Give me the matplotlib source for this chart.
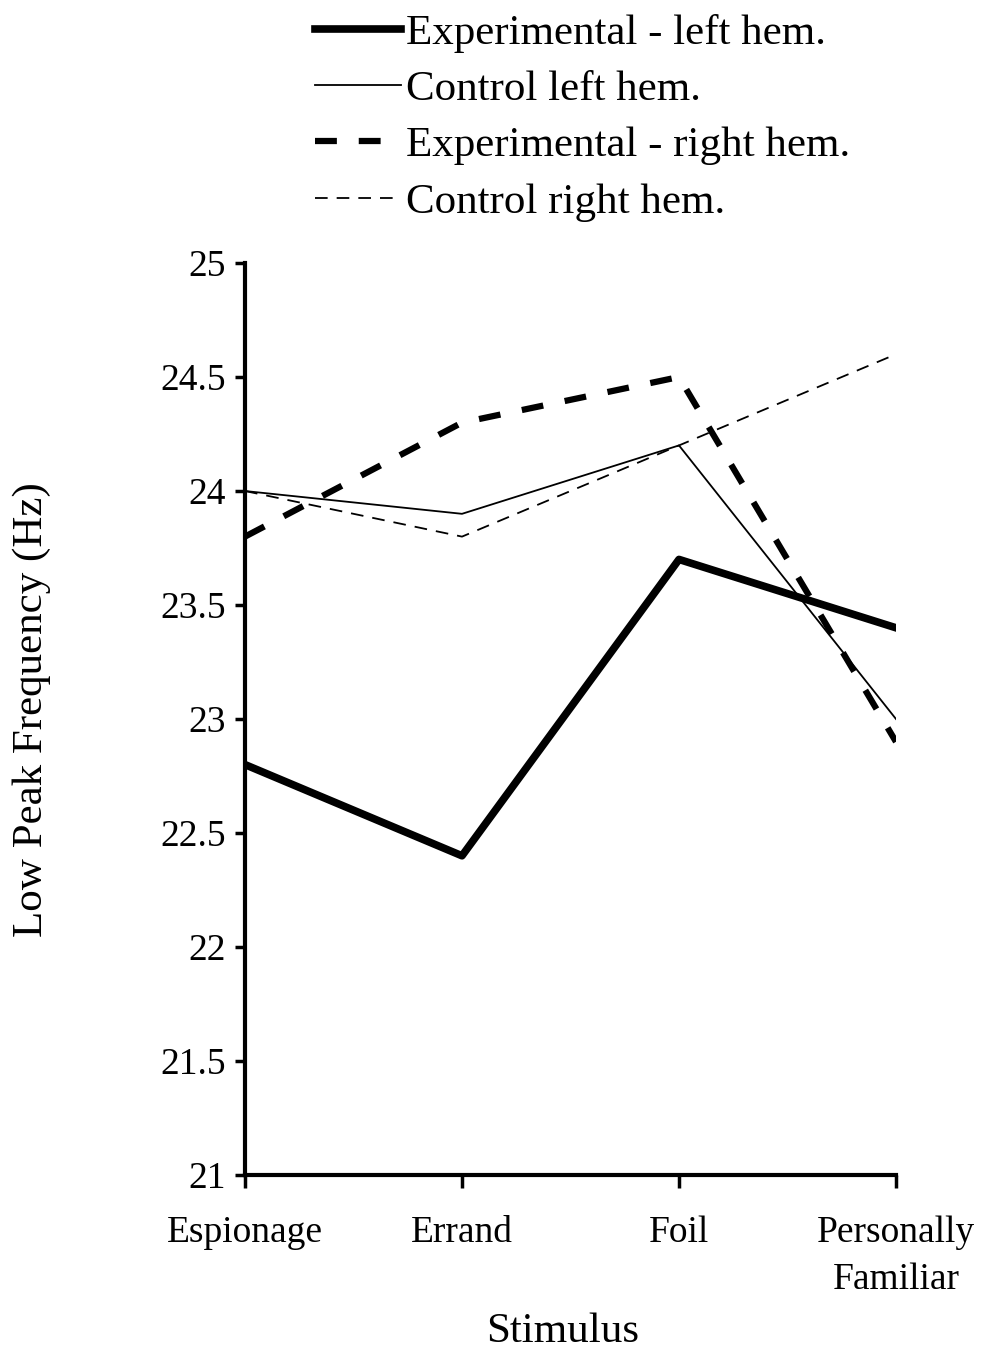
import matplotlib.pyplot as plt

plt.rcParams['font.family'] = ['Liberation Serif', 'DejaVu Serif']

stimuli = ['Espionage', 'Errand', 'Foil', 'Personally\nFamiliar']
exp_left = [22.8, 22.4, 23.7, 23.4]
ctrl_left = [24.0, 23.9, 24.2, 23.0]
exp_right = [23.8, 24.3, 24.5, 22.9]
ctrl_right = [24.0, 23.8, 24.2, 24.6]

fig = plt.figure(figsize=(9.82, 13.51), dpi=100)
ax = fig.add_axes([0.2495, 0.1303, 0.6629, 0.675])

x = range(len(stimuli))
ax.plot(x, exp_left, color='black', lw=5.5, label='Experimental - left hem.')
ax.plot(x, ctrl_left, color='black', lw=1.3, label='Control left hem.')
ax.plot(x, exp_right, color='black', lw=4.5, dashes=(3.5, 3.5), label='Experimental - right hem.')
ax.plot(x, ctrl_right, color='black', lw=1.3, dashes=(7, 5), label='Control right hem.')

ax.set_xlim(0, 3)
ax.set_ylim(21, 25)
ax.set_yticks([21, 21.5, 22, 22.5, 23, 23.5, 24, 24.5, 25])
ax.set_yticklabels(['21', '21.5', '22', '22.5', '23', '23.5', '24', '24.5', '25'])
ax.set_xticks(list(x))
ax.set_xticklabels(stimuli, linespacing=1.5)

for s in ['top', 'right']:
    ax.spines[s].set_visible(False)
for s in ['left', 'bottom']:
    ax.spines[s].set_linewidth(3)
ax.tick_params(axis='both', direction='out', width=2.5, length=7, labelsize=27)
ax.tick_params(axis='x', pad=20, length=9)
ax.tick_params(axis='y', pad=7)

ax.set_xlabel('Stimulus', fontsize=31)
ax.xaxis.set_label_coords(0.488, -0.151)
ax.set_ylabel('Low Peak Frequency (Hz)', fontsize=31)
ax.yaxis.set_label_coords(-0.298, 0.51)

fig.legend(loc='upper left', bbox_to_anchor=(0.321, 0.99), frameon=False,
           fontsize=31, handlelength=2.0, handletextpad=0.12, labelspacing=0.4,
           borderpad=0, borderaxespad=0)

fig.savefig('out.png', dpi=100)
